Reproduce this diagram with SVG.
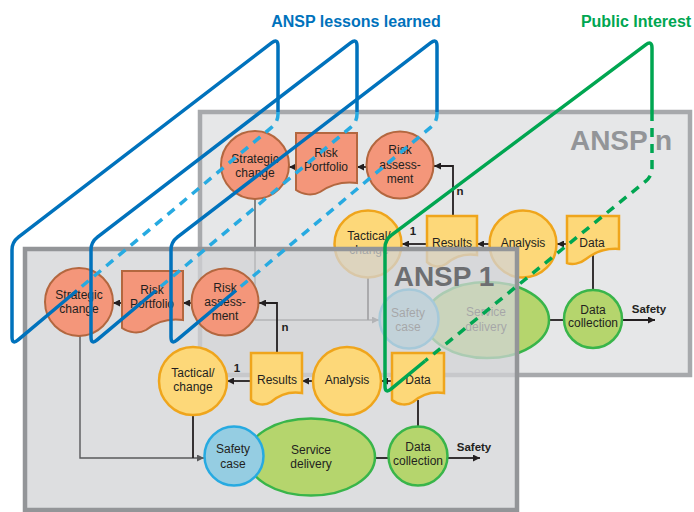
<svg xmlns="http://www.w3.org/2000/svg" width="694" height="512" viewBox="0 0 694 512">
<defs>
  <marker id="ah" viewBox="0 0 8 8" refX="8" refY="4" markerWidth="7" markerHeight="7" markerUnits="userSpaceOnUse" orient="auto">
    <path d="M0,0 L8,4 L0,8 Z" fill="#231f20"/>
  </marker>
  <marker id="ahg" viewBox="0 0 8 8" refX="8" refY="4" markerWidth="7" markerHeight="7" markerUnits="userSpaceOnUse" orient="auto">
    <path d="M0,0 L8,4 L0,8 Z" fill="#58595b"/>
  </marker>
  <!-- one "lessons learned" loop; copies are shifted to the right -->
  <g id="loop">
    <path class="loopd" d="M278,112 L278,114 Q278,122 271.9,127.1 L77,290.5"/>
    <path class="loop" d="M77,290.5 L18.1,339.9 Q12,345 12,337 L12,250 Q12,242 18.4,237.1 L271.6,42.9 Q278,38 278,46 L278,112"/>
  </g>
</defs>
<style>
  .panel-n{fill:#e6e7e8;stroke:#a7a9ac;stroke-width:4.5}
  .panel-1{fill:#d2d3d5;fill-opacity:.75;stroke:#939598;stroke-width:4.5}
  .red{fill:#f4967a;stroke:#b3673f;stroke-width:2}
  .yel{fill:#fdd879;stroke:#efa51c;stroke-width:2.5}
  .grn{fill:#b5d56d;stroke:#39b54a;stroke-width:2.5}
  .sc{fill:#95cde2;stroke:#27aae1;stroke-width:2.5}
  text{font-family:"Liberation Sans",Arial,sans-serif}
  .t{font-size:12px;fill:#231f20;text-anchor:middle}
  .b{font-size:11.5px;font-weight:bold;fill:#231f20;text-anchor:middle}
  .ln{fill:none;stroke:#231f20;stroke-width:1.8}
  .lg{fill:none;stroke:#58595b;stroke-width:1.4}
  .title{font-size:28px;font-weight:bold;text-anchor:middle}
  .head{font-size:16px;font-weight:bold;text-anchor:middle}
  .loop{fill:none;stroke:#0072bc;stroke-width:3.5;stroke-linejoin:round}
  .loopd{fill:none;stroke:#27aae1;stroke-width:3.5;stroke-dasharray:9 7}
  .pi{fill:none;stroke:#00a651;stroke-width:3.5;stroke-linejoin:round}
  .pid{fill:none;stroke:#00a651;stroke-width:3.5;stroke-dasharray:9 7}
</style>

<rect width="694" height="512" fill="#fff"/>

<!-- ===== ANSP n (back panel) ===== -->
<g id="ansp-n">
  <rect class="panel-n" x="200" y="112" width="490" height="263"/>
  <text class="title" x="621" y="150" fill="#939598">ANSP n</text>

  <g id="n-connectors">
    <path class="ln" d="M366,167 H357" marker-end="url(#ah)"/>
    <path class="ln" d="M296,167 H289" marker-end="url(#ah)"/>
    <path class="ln" d="M453,216 V166 H434" marker-end="url(#ah)"/>
    <path class="ln" d="M427,244 H402" marker-end="url(#ah)"/>
    <path class="ln" d="M489,244 H477" marker-end="url(#ah)"/>
    <path class="ln" d="M567,244 H557" marker-end="url(#ah)"/>
    <path class="ln" d="M593,250 V290"/>
    <path class="ln" d="M549,320 H564"/>
    <path class="ln" d="M622,320 H655" marker-end="url(#ah)"/>
    <path class="lg" d="M255,199 V320 H379" marker-end="url(#ahg)"/>
    <path class="ln" d="M368,277 V320"/>
    <text class="b" x="460" y="195">n</text>
    <text class="b" x="413" y="235">1</text>
    <text class="b" x="649" y="313">Safety</text>
  </g>

  <g id="n-strategic">
    <circle class="red" cx="255" cy="165" r="34"/>
    <text class="t" x="255" y="163">Strategic</text>
    <text class="t" x="255" y="177">change</text>
  </g>
  <g id="n-portfolio">
    <path class="red" d="M296,133 H357 V183 C342,181 330,185 320,192 C313,196 303,195 296,190 Z"/>
    <text class="t" x="326" y="157">Risk</text>
    <text class="t" x="326" y="171">Portfolio</text>
  </g>
  <g id="n-assessment">
    <circle class="red" cx="400" cy="165" r="33.5"/>
    <text class="t" x="400" y="154">Risk</text>
    <text class="t" x="400" y="169">assess-</text>
    <text class="t" x="400" y="183">ment</text>
  </g>
  <g id="n-tactical">
    <circle class="yel" cx="368" cy="244" r="33.5"/>
    <text class="t" x="369" y="240">Tactical/</text>
    <text class="t" x="369" y="254">change</text>
  </g>
  <g id="n-results">
    <path class="yel" d="M427,216 H477 V255 C464,253 454,257 446,264 C440,268 432,267 427,262 Z"/>
    <text class="t" x="452" y="247">Results</text>
  </g>
  <g id="n-analysis">
    <circle class="yel" cx="523" cy="244" r="33.5"/>
    <text class="t" x="523" y="247">Analysis</text>
  </g>
  <g id="n-data">
    <path class="yel" d="M567,216 H619 V249 C605,248 595,252 586,259 C580,264 572,265 567,263 Z"/>
    <text class="t" x="592" y="247">Data</text>
  </g>
  <g id="n-service">
    <ellipse class="grn" cx="487" cy="320" rx="62" ry="38"/>
    <text class="t" x="486" y="316">Service</text>
    <text class="t" x="486" y="331">delivery</text>
  </g>
  <g id="n-safety-case">
    <circle class="sc" cx="409" cy="319" r="29.5"/>
    <text class="t" x="408" y="317">Safety</text>
    <text class="t" x="408" y="331">case</text>
  </g>
  <g id="n-data-collection">
    <circle class="grn" cx="593" cy="319" r="29"/>
    <text class="t" x="593" y="314">Data</text>
    <text class="t" x="593" y="327">collection</text>
  </g>
</g>

<!-- ===== ANSP 1 (front panel, partly see-through) ===== -->
<g id="ansp-1">
  <rect class="panel-1" x="25" y="249" width="492" height="261"/>
  <text class="title" x="444" y="286" fill="#6d6e71">ANSP 1</text>

  <g id="a1-connectors">
    <path class="ln" d="M191,303 H183" marker-end="url(#ah)"/>
    <path class="ln" d="M122,303 H113" marker-end="url(#ah)"/>
    <path class="ln" d="M277,353 V303 H259" marker-end="url(#ah)"/>
    <path class="ln" d="M251,381 H227" marker-end="url(#ah)"/>
    <path class="ln" d="M313,381 H302" marker-end="url(#ah)"/>
    <path class="ln" d="M392,381 H381" marker-end="url(#ah)"/>
    <path class="ln" d="M418,400 V427"/>
    <path class="ln" d="M375,458 H388"/>
    <path class="ln" d="M448,458 H480" marker-end="url(#ah)"/>
    <path class="lg" d="M80,336 V458 H204" marker-end="url(#ahg)"/>
    <path class="ln" d="M193,415 V458"/>
    <text class="b" x="285" y="331">n</text>
    <text class="b" x="237" y="372">1</text>
    <text class="b" x="474" y="451">Safety</text>
  </g>

  <g id="a1-strategic">
    <circle class="red" cx="79" cy="302" r="34"/>
    <text class="t" x="79" y="299">Strategic</text>
    <text class="t" x="79" y="313">change</text>
  </g>
  <g id="a1-portfolio">
    <path class="red" d="M122,271 H183 V320 C168,318 156,322 146,330 C139,334 129,333 122,328 Z"/>
    <text class="t" x="152" y="294">Risk</text>
    <text class="t" x="152" y="308">Portfolio</text>
  </g>
  <g id="a1-assessment">
    <circle class="red" cx="225" cy="302" r="33.5"/>
    <text class="t" x="225" y="292">Risk</text>
    <text class="t" x="225" y="306">assess-</text>
    <text class="t" x="225" y="320">ment</text>
  </g>
  <g id="a1-tactical">
    <circle class="yel" cx="193" cy="381" r="34"/>
    <text class="t" x="193" y="377">Tactical/</text>
    <text class="t" x="193" y="391">change</text>
  </g>
  <g id="a1-results">
    <path class="yel" d="M251,353 H302 V393 C289,391 279,395 271,402 C265,406 256,405 251,400 Z"/>
    <text class="t" x="277" y="384">Results</text>
  </g>
  <g id="a1-analysis">
    <circle class="yel" cx="347" cy="381" r="34"/>
    <text class="t" x="347" y="384">Analysis</text>
  </g>
  <g id="a1-data">
    <path class="yel" d="M392,353 H444 V393 C431,391 421,395 413,402 C407,406 398,405 392,400 Z"/>
    <text class="t" x="418" y="384">Data</text>
  </g>
  <g id="a1-service">
    <ellipse class="grn" cx="311" cy="457" rx="64" ry="38.5"/>
    <text class="t" x="311" y="454">Service</text>
    <text class="t" x="311" y="468">delivery</text>
  </g>
  <g id="a1-safety-case">
    <circle class="sc" cx="234" cy="456" r="29.5"/>
    <text class="t" x="233" y="453">Safety</text>
    <text class="t" x="233" y="468">case</text>
  </g>
  <g id="a1-data-collection">
    <circle class="grn" cx="418" cy="456" r="29.5"/>
    <text class="t" x="418" y="451">Data</text>
    <text class="t" x="418" y="465">collection</text>
  </g>
</g>

<!-- ===== feedback loops ===== -->
<g id="lessons-loops">
  <use href="#loop"/>
  <use href="#loop" x="79"/>
  <use href="#loop" x="159"/>
  <text class="head" x="356" y="27" fill="#0072bc">ANSP lessons learned</text>
</g>
<g id="public-interest-loop">
  <path class="pid" d="M652,112 L652,168 Q652,176 645.8,181.1 L425,361"/>
  <path class="pi" d="M425,361 L391.2,388.9 Q385,394 385,386 L385,248 Q385,240 391.4,235.2 L645.6,44.8 Q652,40 652,48 L652,112"/>
  <text class="head" x="636" y="27" fill="#00a651">Public Interest</text>
</g>
</svg>
